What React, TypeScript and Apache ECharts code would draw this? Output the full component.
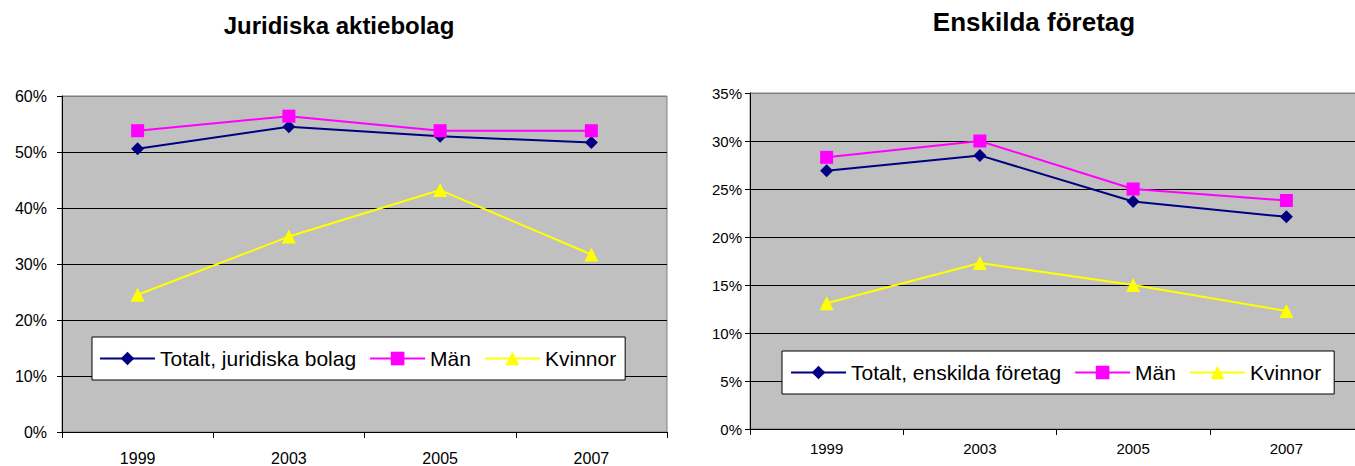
import React, { useEffect, useRef } from "react";
import * as echarts from "echarts";

const years = ["1999", "2003", "2005", "2007"];

const leftTitle = "Juridiska aktiebolag";
const leftTotalName = "Totalt, juridiska bolag";
const leftTotal = [50.6, 54.5, 52.8, 51.7];
const leftMen = [53.8, 56.4, 53.8, 53.8];
const leftWomen = [24.5, 34.9, 43.2, 31.7];

const rightTitle = "Enskilda företag";
const rightTotalName = "Totalt, enskilda företag";
const rightTotal = [26.9, 28.5, 23.7, 22.1];
const rightMen = [28.3, 30.0, 25.0, 23.8];
const rightWomen = [13.1, 17.3, 15.0, 12.3];

const menName = "Män";
const womenName = "Kvinnor";

const FONT = "Arial, 'Liberation Sans', Helvetica, sans-serif";

export default function App() {
  const ref = useRef<HTMLDivElement>(null);

  useEffect(() => {
    if (!ref.current) return;
    const chart = echarts.init(ref.current, null, { renderer: "svg" });

    const mkSeries = (name: string, data: number[], idx: number, color: string, symbol: string, size: number) => ({
      type: "line",
      name,
      data,
      xAxisIndex: idx,
      yAxisIndex: idx,
      symbol,
      symbolSize: size,
      color,
      itemStyle: { color },
      lineStyle: { color, width: 2 },
      emphasis: { disabled: true },
      z: 3,
    });

    const xAxis = (idx: number, margin: number, fs: number) => ({
      type: "category",
      gridIndex: idx,
      data: years,
      boundaryGap: true,
      axisLine: { show: true, lineStyle: { color: "#000", width: 1 } },
      axisTick: { show: true, length: 6, alignWithLabel: false, lineStyle: { color: "#000" } },
      axisLabel: { color: "#000", fontSize: fs, fontFamily: FONT, margin },
      splitLine: { show: false },
    });

    const yAxis = (idx: number, max: number, interval: number, margin: number, fs: number) => {
      const n = max / interval + 1;
      const colors = [] as string[];
      for (let i = 0; i < n; i++) colors.push(i === n - 1 ? "#808080" : "#000");
      return {
        type: "value",
        gridIndex: idx,
        min: 0,
        max,
        interval,
        axisLine: { show: true, lineStyle: { color: "#000", width: 1 } },
        axisTick: { show: true, length: 5, lineStyle: { color: "#000" } },
        axisLabel: { color: "#000", fontSize: fs, fontFamily: FONT, margin, formatter: "{value}%" },
        splitLine: { show: true, lineStyle: { color: colors, width: 1 } },
      };
    };

    const legend = (left: number, top: number, names: string[], padding: number[]) => ({
      left,
      top,
      orient: "horizontal",
      data: names,
      backgroundColor: "#fff",
      borderColor: "#000",
      borderWidth: 1,
      padding,
      itemWidth: 55,
      itemHeight: 17,
      itemGap: 13,
      selectedMode: false,
      textStyle: { color: "#000", fontSize: 21, fontFamily: FONT },
    });

    chart.setOption({
      animation: false,
      backgroundColor: "#fff",
      graphic: [
        {
          type: "text",
          x: 339,
          y: 25,
          style: {
            text: leftTitle,
            font: `bold 24px ${FONT}`,
            fill: "#000",
            textAlign: "center",
            textVerticalAlign: "middle",
          },
        },
        {
          type: "text",
          x: 1034,
          y: 22,
          style: {
            text: rightTitle,
            font: `bold 26px ${FONT}`,
            fill: "#000",
            textAlign: "center",
            textVerticalAlign: "middle",
          },
        },
      ],
      grid: [
        {
          left: 62,
          top: 96,
          width: 605,
          height: 336,
          show: true,
          backgroundColor: "#C0C0C0",
          borderColor: "#808080",
          borderWidth: 1,
          containLabel: false,
        },
        {
          left: 750,
          top: 93,
          width: 613,
          height: 336,
          show: true,
          backgroundColor: "#C0C0C0",
          borderColor: "#808080",
          borderWidth: 1,
          containLabel: false,
        },
      ],
      xAxis: [xAxis(0, 18, 16), xAxis(1, 12, 15)],
      yAxis: [yAxis(0, 60, 10, 15, 16), yAxis(1, 35, 5, 8, 15)],
      legend: [
        legend(92, 337, [leftTotalName, menName, womenName], [11, 9, 11, 7]),
        legend(782, 351, [rightTotalName, menName, womenName], [11, 13, 11, 8]),
      ],
      series: [
        mkSeries(leftTotalName, leftTotal, 0, "#000080", "diamond", 13),
        mkSeries(menName, leftMen, 0, "#FF00FF", "rect", 13),
        mkSeries(womenName, leftWomen, 0, "#FFFF00", "triangle", 14),
        mkSeries(rightTotalName, rightTotal, 1, "#000080", "diamond", 13),
        mkSeries(menName, rightMen, 1, "#FF00FF", "rect", 13),
        mkSeries(womenName, rightWomen, 1, "#FFFF00", "triangle", 14),
      ],
    });

    return () => chart.dispose();
  }, []);

  return (
    <div style={{ position: "absolute", left: 0, top: 0, width: 1355, height: 466, overflow: "hidden" }}>
      <div ref={ref} style={{ position: "absolute", left: 0, top: 0, width: 1375, height: 466 }} />
    </div>
  );
}
